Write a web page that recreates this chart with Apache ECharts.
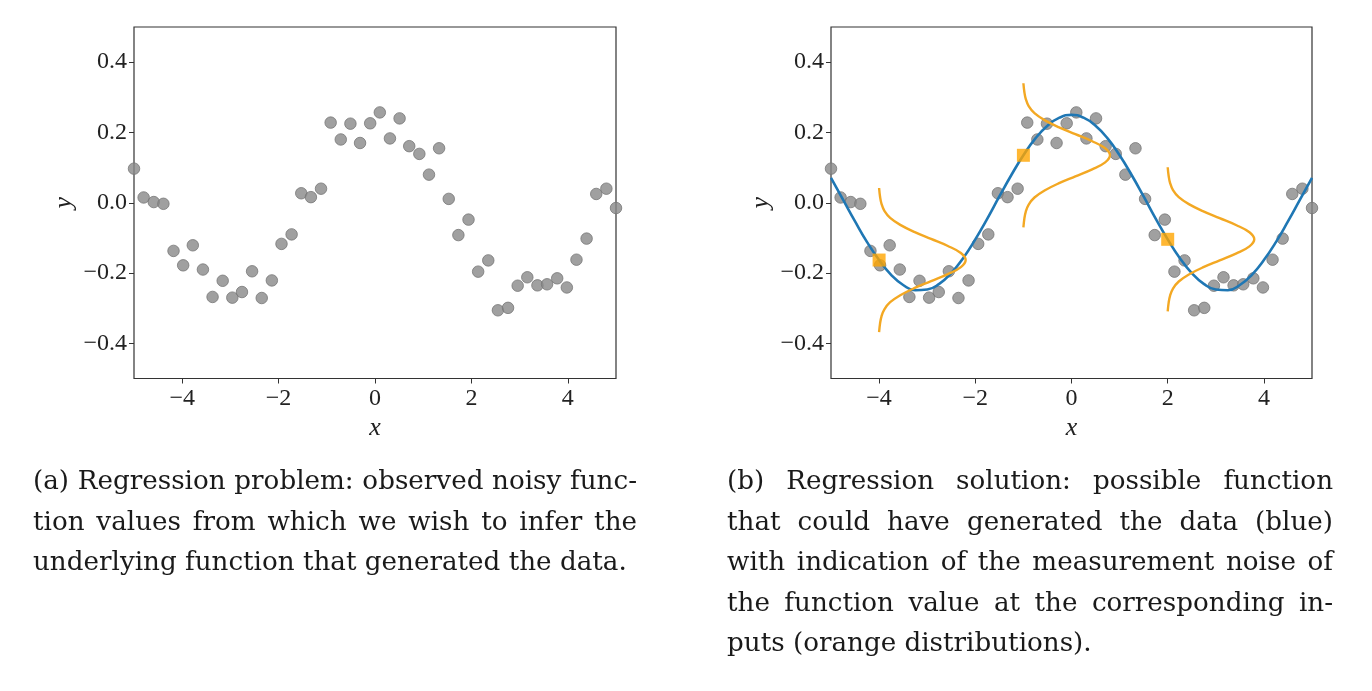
<!DOCTYPE html>
<html>
<head>
    <meta charset="utf-8">
    <title>regression</title>
    <style>
        body { margin: 0; background: #fff; }
        #main { width: 1372px; height: 691px; }
        .cap { position: absolute; font-family: 'DejaVu Serif', serif; font-size: 26.2px; color: #1a1a1a; }
        .cap div { height: 40.5px; line-height: 40.5px; text-align: justify; text-align-last: justify; white-space: nowrap; }
        .cap div.last { text-align-last: left; }
    </style>
    <script src="https://cdn.jsdelivr.net/npm/echarts@6/dist/echarts.min.js"></script>
</head>
<body>
    <div id="main"></div>
    <div class="cap" style="left:33px;top:460px;width:604px;">
        <div>(a) Regression problem: observed noisy func-</div>
        <div>tion values from which we wish to infer the</div>
        <div class="last">underlying function that generated the data.</div>
    </div>
    <div class="cap" style="left:727px;top:460px;width:606px;">
        <div>(b) Regression solution: possible function</div>
        <div>that could have generated the data (blue)</div>
        <div>with indication of the measurement noise of</div>
        <div>the function value at the corresponding in-</div>
        <div class="last">puts (orange distributions).</div>
    </div>
    <script type="text/javascript">
    var obsX = [-5.00, -4.80, -4.59, -4.39, -4.18, -3.98, -3.78, -3.57, -3.37, -3.16,
                -2.96, -2.76, -2.55, -2.35, -2.14, -1.94, -1.73, -1.53, -1.33, -1.12,
                -0.92, -0.71, -0.51, -0.31, -0.10, 0.10, 0.31, 0.51, 0.71, 0.92,
                1.12, 1.33, 1.53, 1.73, 1.94, 2.14, 2.35, 2.55, 2.76, 2.96,
                3.16, 3.37, 3.57, 3.78, 3.98, 4.18, 4.39, 4.59, 4.80, 5.00];
    var obsY = [0.097, 0.015, 0.002, -0.003, -0.137, -0.178, -0.121, -0.190, -0.268, -0.222,
                -0.270, -0.254, -0.195, -0.271, -0.221, -0.117, -0.090, 0.027, 0.016, 0.040,
                0.228, 0.180, 0.225, 0.170, 0.226, 0.257, 0.183, 0.240, 0.161, 0.139,
                0.080, 0.155, 0.011, -0.092, -0.048, -0.196, -0.164, -0.306, -0.299, -0.236,
                -0.212, -0.235, -0.232, -0.215, -0.241, -0.162, -0.102, 0.025, 0.040, -0.015];

    // blue fitted function
    var fitX = [-5, -4.75, -4.5, -4.25, -4, -3.75, -3.5, -3.25, -3, -2.75, -2.5, -2.25, -2,
                -1.75, -1.5, -1.25, -1, -0.75, -0.5, -0.25, 0, 0.25, 0.5, 0.75, 1, 1.25,
                1.5, 1.75, 2, 2.25, 2.5, 2.75, 3, 3.25, 3.5, 3.75, 4, 4.25, 4.5, 4.75, 5];
    var fitY = [0.071, 0.009, -0.053, -0.112, -0.163, -0.205, -0.234, -0.249, -0.247, -0.231,
                -0.200, -0.157, -0.104, -0.045, 0.018, 0.079, 0.135, 0.183, 0.219, 0.242,
                0.250, 0.242, 0.219, 0.183, 0.135, 0.079, 0.018, -0.045, -0.104, -0.157,
                -0.200, -0.231, -0.247, -0.249, -0.234, -0.205, -0.163, -0.112, -0.053, 0.009, 0.071];

    // orange markers at the chosen inputs
    var markX = [-4, -1, 2];
    var markY = [-0.163, 0.135, -0.104];

    // noise density profile: vertical offset from marker, horizontal extent
    var densDy = [-0.205, -0.18, -0.16, -0.14, -0.12, -0.10, -0.08, -0.06, -0.04, -0.02, 0,
                  0.02, 0.04, 0.06, 0.08, 0.10, 0.12, 0.14, 0.16, 0.18, 0.205];
    var densW = [0.0, 0.02, 0.05, 0.11, 0.23, 0.44, 0.73, 1.08, 1.43, 1.70, 1.80,
                 1.70, 1.43, 1.08, 0.73, 0.44, 0.23, 0.11, 0.05, 0.02, 0.0];

    var xTicks = [-4, -2, 0, 2, 4];
    var yTicks = [-0.4, -0.2, 0, 0.2, 0.4];

    var myChart = echarts.init(document.getElementById('main'));

    var tickFont = {fontFamily: 'Liberation Serif', fontSize: 24, color: '#222'};
    var nameFont = {fontFamily: 'Liberation Serif', fontSize: 26, fontStyle: 'italic', color: '#222'};

    function fmtX(v) { return String(v).replace('-', '\u2212'); }
    function fmtY(v) { return v.toFixed(1).replace('-', '\u2212'); }

    function xAxisFor(i) {
        return {
            gridIndex: i, type: 'value', min: -5, max: 5, position: 'bottom',
            name: 'x', nameLocation: 'middle', nameGap: 36, nameTextStyle: nameFont,
            axisLine: {show: false, onZero: false},
            axisTick: {show: true, length: 5, inside: false, customValues: xTicks, lineStyle: {color: '#333'}},
            axisLabel: Object.assign({customValues: xTicks, formatter: fmtX, margin: 8}, tickFont),
            splitLine: {show: false}
        };
    }
    function yAxisFor(i) {
        return {
            gridIndex: i, type: 'value', min: -0.5, max: 0.5, position: 'left',
            name: 'y', nameLocation: 'middle', nameGap: 57, nameTextStyle: nameFont,
            axisLine: {show: false, onZero: false},
            axisTick: {show: true, length: 5, inside: false, customValues: yTicks, lineStyle: {color: '#333'}},
            axisLabel: Object.assign({customValues: yTicks, formatter: fmtY, margin: 7}, tickFont),
            splitLine: {show: false}
        };
    }

    var obsData = obsX.map(function (x, i) { return [x, obsY[i]]; });
    var fitData = fitX.map(function (x, i) { return [x, fitY[i]]; });
    var markData = markX.map(function (x, i) { return [x, markY[i]]; });

    var dotStyle = {color: '#888888', borderColor: '#777', borderWidth: 1};

    var series = [
        {type: 'scatter', xAxisIndex: 0, yAxisIndex: 0, symbolSize: 11.5, data: obsData, itemStyle: dotStyle, z: 2},
        {type: 'scatter', xAxisIndex: 1, yAxisIndex: 1, symbolSize: 11.5, data: obsData, itemStyle: dotStyle, z: 2},
        {type: 'line', xAxisIndex: 1, yAxisIndex: 1, data: fitData, smooth: true, showSymbol: false,
         lineStyle: {color: '#1f77b4', width: 2.6}, z: 3}
    ];
    markX.forEach(function (mx, k) {
        series.push({
            type: 'line', xAxisIndex: 1, yAxisIndex: 1, smooth: 0.4, showSymbol: false,
            data: densDy.map(function (d, i) { return [mx + densW[i], markY[k] + d]; }),
            lineStyle: {color: '#f3a823', width: 2.4}, z: 4
        });
    });
    series.push({type: 'scatter', xAxisIndex: 1, yAxisIndex: 1, symbol: 'rect', symbolSize: 13,
                 data: markData, itemStyle: {color: '#ffa500'}, z: 5});

    var option = {
        animation: false,
        backgroundColor: '#fff',
        grid: [
            {left: 134, top: 27, width: 482, height: 351.5, show: true, borderColor: '#333', borderWidth: 1.2},
            {left: 831, top: 27, width: 481, height: 351.5, show: true, borderColor: '#333', borderWidth: 1.2}
        ],
        xAxis: [xAxisFor(0), xAxisFor(1)],
        yAxis: [yAxisFor(0), yAxisFor(1)],
        series: series
    };
    myChart.setOption(option);
    </script>
</body>
</html>
